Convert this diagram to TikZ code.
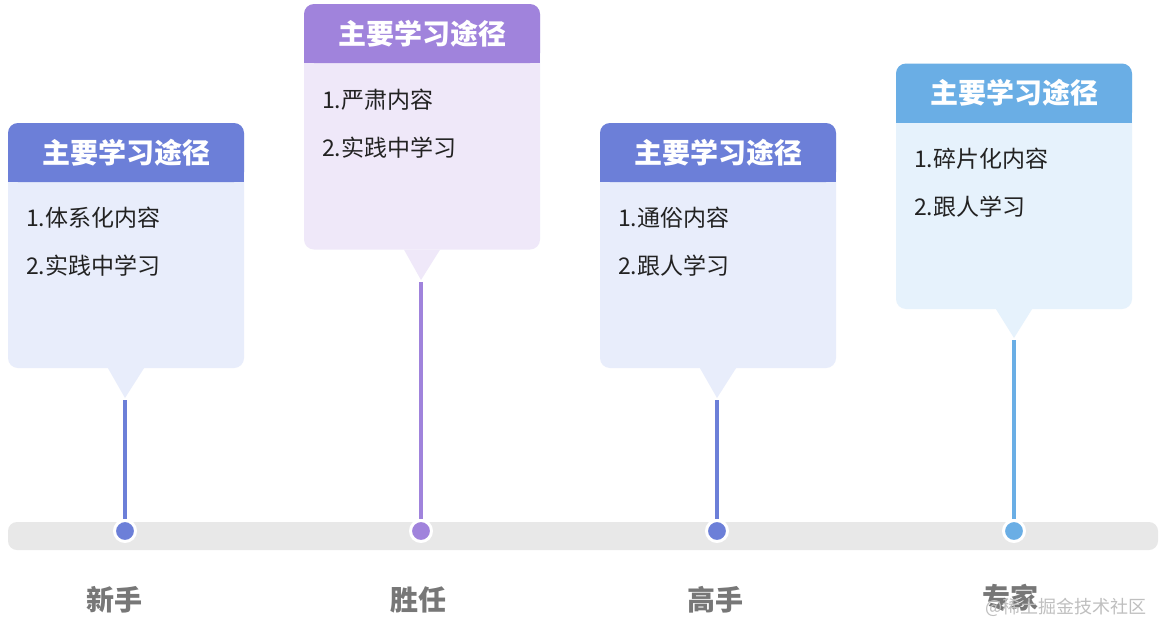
\documentclass[tikz,border=0pt]{standalone}
\usepackage{fontspec}
\setmainfont{Noto Sans CJK SC}
\usetikzlibrary{positioning}

\definecolor{HeadA}{HTML}{6C7FD8}
\definecolor{BodyA}{HTML}{E8EDFB}
\definecolor{HeadB}{HTML}{A083DC}
\definecolor{BodyB}{HTML}{EFE8F9}
\definecolor{HeadC}{HTML}{6AAEE5}
\definecolor{BodyC}{HTML}{E6F2FC}
\definecolor{Track}{HTML}{E8E8E8}
\definecolor{LabelGray}{HTML}{777777}
\definecolor{ItemText}{HTML}{222222}

\begin{document}
\begin{tikzpicture}[x=1pt,y=-1pt]
	\tikzstyle{Card}	= [rectangle, rounded corners=10pt, minimum width=236pt, minimum height=245pt, inner sep=0pt]
	\tikzstyle{Head}	= [rectangle, rounded corners=10pt, minimum width=236pt, minimum height=59pt, inner sep=0pt, text=white, font=\bfseries\fontsize{28}{32}\selectfont]
	\tikzstyle{Item}	= [anchor=west, inner sep=0pt, text=ItemText, font=\fontsize{23}{26}\selectfont]
	\tikzstyle{Dot}		= [circle, draw=white, line width=3pt, minimum size=21pt, inner sep=0pt]
	\tikzstyle{Stage}	= [text=LabelGray, font=\bfseries\fontsize{28}{32}\selectfont]
	\tikzstyle{Stem}	= [line width=3.5pt]

	\useasboundingbox [fill=white] (0,0) rectangle (1166,637);

	% track
	\fill [Track, rounded corners=9pt] (8,522) rectangle (1158,550);
	\node (d1) at (125,531) [Dot, fill=HeadA] {};
	\node (d2) at (421,531) [Dot, fill=HeadB] {};
	\node (d3) at (717,531) [Dot, fill=HeadA] {};
	\node (d4) at (1014,531) [Dot, fill=HeadC] {};

	% card 1
	\node (c1) at (126,245.5) [Card, fill=BodyA] {};
	\node (h1) at (126,152.5) [Head, fill=HeadA] {};
	\fill [HeadA] (h1.south west) rectangle ([yshift=10pt]h1.south east);
	\node at (h1) [Head] {主要学习途径};
	\node (i11) at (26,218) [Item] {1.体系化内容};
	\node (i12) at (26,266) [Item] {2.实践中学习};
	\coordinate (t1) at (125,398);
	\fill [BodyA] ([xshift=-18pt]c1.south) -- ([xshift=18pt]c1.south) -- (t1) -- cycle;

	% card 2
	\node (c2) at (422,127) [Card, fill=BodyB] {};
	\node (h2) at (422,33.5) [Head, fill=HeadB] {};
	\fill [HeadB] (h2.south west) rectangle ([yshift=10pt]h2.south east);
	\node at (h2) [Head] {主要学习途径};
	\node (i21) at (322,100) [Item] {1.严肃内容};
	\node (i22) at (322,148) [Item] {2.实践中学习};
	\coordinate (t2) at (421,280);
	\fill [BodyB] ([xshift=-18pt]c2.south) -- ([xshift=18pt]c2.south) -- (t2) -- cycle;

	% card 3
	\node (c3) at (718,245.5) [Card, fill=BodyA] {};
	\node (h3) at (718,152.5) [Head, fill=HeadA] {};
	\fill [HeadA] (h3.south west) rectangle ([yshift=10pt]h3.south east);
	\node at (h3) [Head] {主要学习途径};
	\node (i31) at (618,218) [Item] {1.通俗内容};
	\node (i32) at (618,266) [Item] {2.跟人学习};
	\coordinate (t3) at (717,398);
	\fill [BodyA] ([xshift=-18pt]c3.south) -- ([xshift=18pt]c3.south) -- (t3) -- cycle;

	% card 4
	\node (c4) at (1014,186.5) [Card, fill=BodyC] {};
	\node (h4) at (1014,93) [Head, fill=HeadC] {};
	\fill [HeadC] (h4.south west) rectangle ([yshift=10pt]h4.south east);
	\node at (h4) [Head] {主要学习途径};
	\node (i41) at (914,159) [Item] {1.碎片化内容};
	\node (i42) at (914,207) [Item] {2.跟人学习};
	\coordinate (t4) at (1014,338);
	\fill [BodyC] ([xshift=-18pt]c4.south) -- ([xshift=18pt]c4.south) -- (t4) -- cycle;

	% stems
	\draw [-] ([yshift=-2pt]t1) to (d1.north) [Stem, HeadA];
	\draw [-] ([yshift=-2pt]t2) to (d2.north) [Stem, HeadB];
	\draw [-] ([yshift=-2pt]t3) to (d3.north) [Stem, HeadA];
	\draw [-] ([yshift=-2pt]t4) to (d4.north) [Stem, HeadC];

	% stages
	\node (s1) at (114,600) [Stage] {新手};
	\node (s2) at (418,600) [Stage] {胜任};
	\node (s3) at (715,600) [Stage] {高手};
	\node (s4) at (1010,598) [Stage] {专家};

	\node (wm) at (1066,607) [text=black!25, font=\fontsize{18}{20}\selectfont] {@稀土掘金技术社区};
\end{tikzpicture}
\end{document}
